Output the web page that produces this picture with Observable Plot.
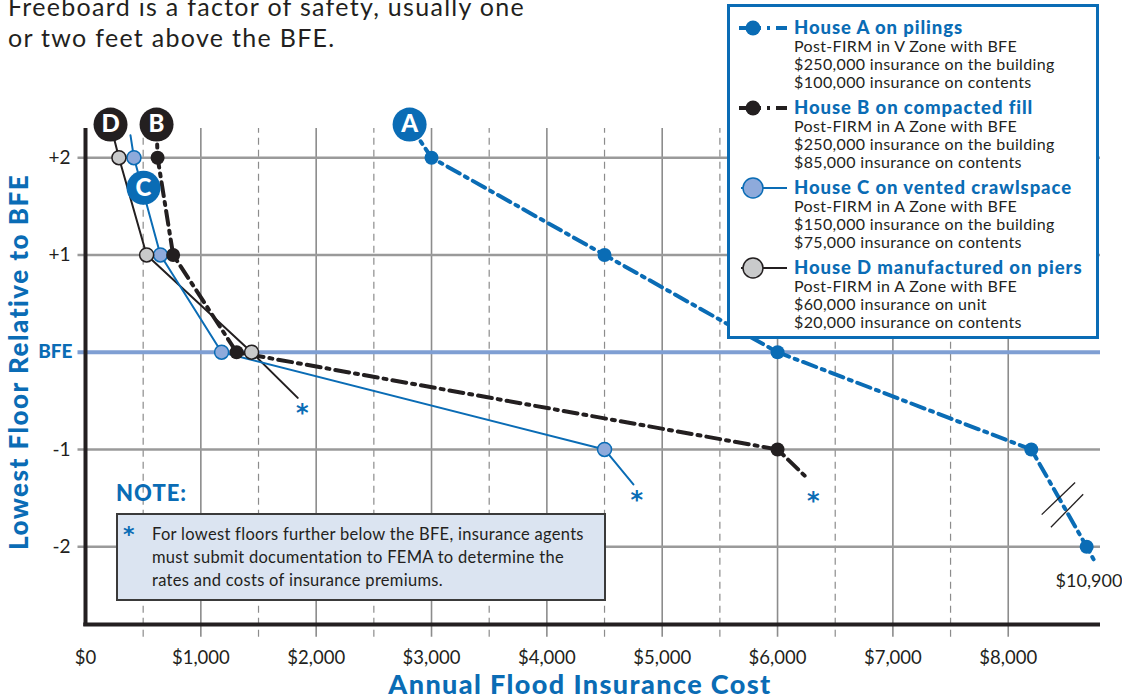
<!DOCTYPE html>
<html><head><meta charset="utf-8">
<script src="https://cdn.jsdelivr.net/npm/d3@7"></script>
<script src="https://cdn.jsdelivr.net/npm/@observablehq/plot@0.6"></script>
<style>
body{margin:0;background:#fff;font-family:Lato,"Open Sans",sans-serif;color:#231f20;}
#wrap{position:relative;width:1122px;height:696px;overflow:hidden;background:#fff;}
#wrap svg.plot{position:absolute;left:0;top:0;}
.abs{position:absolute;white-space:nowrap;}
#intro{left:8px;top:-9px;font-size:25px;line-height:31px;letter-spacing:1.3px;}
#legend{left:727px;top:4px;width:366px;height:329px;border:3px solid #0a6cb5;background:#fff;}
.lt{position:absolute;left:64px;font-weight:900;color:#0a6cb5;font-size:18.5px;letter-spacing:0.9px;line-height:18px;height:18px;}
.ld{position:absolute;left:64px;font-size:16px;letter-spacing:0.35px;line-height:18px;height:18px;}
.ls{position:absolute;left:7px;}
#notehead{left:116px;top:480px;font-size:22px;line-height:26px;font-weight:900;letter-spacing:1px;color:#0a6cb5;}
#notebox{left:116px;top:513px;width:486px;height:84px;border:2px solid #3a3a3a;background:#dbe4f1;}
#notebox .star{position:absolute;left:5px;top:8px;font-family:"DejaVu Sans",sans-serif;font-size:22px;font-weight:bold;color:#0a6cb5;line-height:24px;}
#notebox .txt{position:absolute;left:34px;top:8px;font-size:16.5px;letter-spacing:0.3px;line-height:23px;}
#xtitle{left:0;width:1160px;text-align:center;top:672px;font-size:27px;line-height:24px;letter-spacing:1.4px;font-weight:900;color:#0a6cb5;}
#ytitle{left:18px;top:362px;font-size:26px;line-height:28px;letter-spacing:1.5px;font-weight:900;color:#0a6cb5;transform:translate(-50%,-50%) rotate(-90deg);}
</style></head><body>
<div id="wrap"></div>
<script>
const BLUE = "#0a6cb5", BLACK = "#231f20", LIGHTBLUE = "#8eaadb", GREY = "#c9cacb";

// ---- data ----
const levels = [2, 1, 0, -1, -2];                 // lowest floor relative to BFE (ft)
const costA = [3000, 4500, 6000, 8200, 8680];     // House A (the -2 value, $10,900, is drawn past a break)
const costB = [625, 760, 1310, 6000];             // House B, levels +2..-1
const costC = [420, 650, 1180, 4500];             // House C, levels +2..-1
const costD = [290, 530, 1440];                   // House D, levels +2..BFE
const labelPos = [                                 // letter badges
  {k: "A", x: 2810, y: 2.34, c: BLUE},
  {k: "B", x: 616, y: 2.34, c: BLACK},
  {k: "C", x: 503, y: 1.69, c: BLUE},
  {k: "D", x: 217, y: 2.34, c: BLACK}
];
const tailA = {x: 8740, y: -2.13};
const tailB = {x: 6270, y: -1.31};
const tailC = {x: 4750, y: -1.36};
const tailD = {x: 1840, y: -0.47};
const topC = {x: 390, y: 2.23};
const asterisks = [{x: 1880, y: -0.57}, {x: 4780, y: -1.46}, {x: 6310, y: -1.47}];
const breakMarks = [
  {x1: 8290, y1: -1.67, x2: 8580, y2: -1.34},
  {x1: 8370, y1: -1.80, x2: 8650, y2: -1.46}
];
const breakLabel = [{x: 8700, y: -2.36, t: "$10,900"}];
const xTicks = [0, 1000, 2000, 3000, 4000, 5000, 6000, 7000, 8000];
const xSolid = [1000, 2000, 3000, 4000, 5000, 6000, 7000, 8000];
const xDashed = [500, 1500, 2500, 3500, 4500, 5500, 6500, 7500];
const yTicks = [2, 1, -1, -2];

const legendItems = [
  {title: "House A on pilings", lines: ["Post-FIRM in V Zone with BFE", "$250,000 insurance on the building", "$100,000 insurance on contents"]},
  {title: "House B on compacted fill", lines: ["Post-FIRM in A Zone with BFE", "$250,000 insurance on the building", "$85,000 insurance on contents"]},
  {title: "House C on vented crawlspace", lines: ["Post-FIRM in A Zone with BFE", "$150,000 insurance on the building", "$75,000 insurance on contents"]},
  {title: "House D manufactured on piers", lines: ["Post-FIRM in A Zone with BFE", "$60,000 insurance on unit", "$20,000 insurance on contents"]}
];
const introLines = ["Freeboard is a factor of safety, usually one", "or two feet above the BFE."];
const noteLines = ["For lowest floors further below the BFE, insurance agents", "must submit documentation to FEMA to determine the", "rates and costs of insurance premiums."];

// ---- tables ----
const pts = (costs) => costs.map((x, i) => ({x, y: levels[i]}));
const pA = pts(costA), pB = pts(costB), pC = pts(costC), pD = pts(costD);
const lab = Object.fromEntries(labelPos.map(d => [d.k, d]));
const pathA = [lab.A, ...pA, tailA];
const pathB = [lab.B, ...pB, tailB];
const pathC = [topC, ...pC, tailC];
const pathD = [lab.D, ...pD, tailD];

const chart = Plot.plot({
  width: 1122, height: 696,
  marginLeft: 85, marginRight: 22, marginTop: 128, marginBottom: 72,
  x: {domain: [0, 8800]},
  y: {domain: [-2.8, 2.3]},
  style: {fontFamily: "Lato, sans-serif", color: BLACK, background: "transparent", overflow: "visible"},
  marks: [
    Plot.ruleX(xDashed, {y1: -2.93, y2: 2.3, stroke: "#8c8c8c", strokeWidth: 1.2, strokeDasharray: "7,5"}),
    Plot.ruleX(xSolid, {y1: -2.93, y2: 2.3, stroke: "#8c8c8c", strokeWidth: 1.6}),
    Plot.ruleY(yTicks, {x1: -65, x2: 8800, stroke: "#9a9a9a", strokeWidth: 2.6}),
    Plot.ruleY([0], {x1: -65, x2: 8800, stroke: "#7f9fd3", strokeWidth: 4}),
    Plot.ruleX([0], {y1: -2.82, y2: 2.3, stroke: BLACK, strokeWidth: 4}),
    Plot.ruleY([-2.8], {x1: -15, x2: 8800, stroke: BLACK, strokeWidth: 4}),
    Plot.axisX(xTicks, {tickSize: 0, tickPadding: 26, tickFormat: d => "$" + d3.format(",")(d), fontSize: 18.5, letterSpacing: 0.8, label: null}),
    Plot.axisY(yTicks, {tickSize: 0, tickPadding: 15, tickFormat: d => d > 0 ? "+" + d : String(d), fontSize: 19, label: null}),
    Plot.text([0], {y: d => d, frameAnchor: "left", dx: -13, textAnchor: "end", text: () => "BFE", fill: BLUE, fontWeight: 900, fontSize: 19}),
    // series lines
    Plot.line(pathD, {x: "x", y: "y", stroke: BLACK, strokeWidth: 2}),
    Plot.line(pathC, {x: "x", y: "y", stroke: BLUE, strokeWidth: 2}),
    Plot.line(pathB, {x: "x", y: "y", stroke: BLACK, strokeWidth: 4, strokeDasharray: "14,6,3,6"}),
    Plot.line(pathA, {x: "x", y: "y", stroke: BLUE, strokeWidth: 4, strokeDasharray: "14,6,3,6"}),
    // break marks
    Plot.link(breakMarks, {x1: "x1", y1: "y1", x2: "x2", y2: "y2", stroke: BLACK, strokeWidth: 1.3}),
    // markers
    Plot.dot(pC, {x: "x", y: "y", r: 7, fill: LIGHTBLUE, stroke: BLUE, strokeWidth: 1.5}),
    Plot.dot(pB, {x: "x", y: "y", r: 7, fill: BLACK}),
    Plot.dot(pD, {x: "x", y: "y", r: 7, fill: GREY, stroke: BLACK, strokeWidth: 1.5}),
    Plot.dot(pA, {x: "x", y: "y", r: 7, fill: BLUE}),
    // letter badges
    Plot.dot(labelPos.filter(d => d.c === BLUE), {x: "x", y: "y", r: 17, fill: BLUE}),
    Plot.dot(labelPos.filter(d => d.c === BLACK), {x: "x", y: "y", r: 17, fill: BLACK}),
    Plot.text(labelPos, {x: "x", y: "y", text: "k", fill: "white", fontWeight: 900, fontSize: 24}),
    // asterisks and break label
    Plot.text(asterisks, {x: "x", y: "y", text: () => "*", fill: BLUE, fontWeight: "bold", fontFamily: "DejaVu Sans", fontSize: 24, dy: 6}),
    Plot.text(breakLabel, {x: "x", y: "y", text: "t", fill: BLACK, fontSize: 18, letterSpacing: 0.5})
  ]
});
chart.classList.add("plot");
const wrap = document.getElementById("wrap");
wrap.appendChild(chart);

function addDiv(id, html, cls) {
  const d = document.createElement("div");
  if (id) d.id = id;
  d.className = cls || "abs";
  d.innerHTML = html;
  wrap.appendChild(d);
  return d;
}
addDiv("intro", introLines.join("<br>"));
addDiv("xtitle", "Annual Flood Insurance Cost");
addDiv("ytitle", "Lowest Floor Relative to BFE");
addDiv("notehead", "NOTE:");
addDiv("notebox", '<div class="star">*</div><div class="txt">' + noteLines.join("<br>") + "</div>");

// legend
const leg = addDiv("legend", "");
const symbols = [
  `<svg width="52" height="24"><line x1="2" y1="12" x2="50" y2="12" stroke="${BLUE}" stroke-width="4" stroke-dasharray="22,6,3,6,12"/><circle cx="16" cy="12" r="7.5" fill="${BLUE}"/></svg>`,
  `<svg width="52" height="24"><line x1="2" y1="12" x2="50" y2="12" stroke="${BLACK}" stroke-width="4" stroke-dasharray="22,6,3,6,12"/><circle cx="16" cy="12" r="7.5" fill="${BLACK}"/></svg>`,
  `<svg width="52" height="24"><line x1="4" y1="12" x2="50" y2="12" stroke="${BLUE}" stroke-width="2"/><circle cx="16" cy="12" r="10" fill="${LIGHTBLUE}" stroke="${BLUE}" stroke-width="1.5"/></svg>`,
  `<svg width="52" height="24"><line x1="4" y1="12" x2="50" y2="12" stroke="${BLACK}" stroke-width="2"/><circle cx="16" cy="12" r="10" fill="${GREY}" stroke="${BLACK}" stroke-width="1.5"/></svg>`
];
legendItems.forEach((it, i) => {
  const cy = 28 + 80 * i - 7; // relative to legend content box (top 4 + border 3)
  const s = document.createElement("div"); s.className = "ls"; s.style.top = (cy - 12) + "px"; s.innerHTML = symbols[i]; leg.appendChild(s);
  const t = document.createElement("div"); t.className = "lt"; t.style.top = (cy - 10.5) + "px"; t.textContent = it.title; leg.appendChild(t);
  it.lines.forEach((ln, j) => {
    const l = document.createElement("div"); l.className = "ld"; l.style.top = (cy + 18 * (j + 1) - 9) + "px"; l.textContent = ln; leg.appendChild(l);
  });
});
</script>
</body></html>
